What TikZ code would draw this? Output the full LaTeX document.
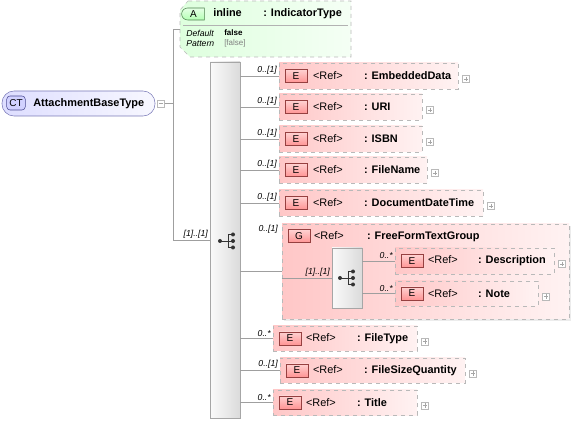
\documentclass[tikz,border=0pt]{standalone}
\usepackage{fontspec}
\setmainfont{Liberation Sans}
\usetikzlibrary{positioning, fit, calc, shapes.misc, shadows}

\begin{document}
\begin{tikzpicture}[x=0.75pt, y=-0.75pt,
	link/.style={draw=gray!75, line width=0.6pt},
	mult/.style={font=\fontsize{6.5}{7}\selectfont\itshape, inner sep=1.2pt},
	etext/.style={font=\fontsize{8.2}{10}\selectfont\bfseries, inner sep=0, anchor=west},
	elem/.style={draw=gray!55, dashed, left color=red!22, right color=red!5, inner sep=0},
	groupshadow/.style={drop shadow={shadow xshift=1.5pt, shadow yshift=-1.5pt, fill=gray!30}},
	badge/.style={draw=red!45!black!75, top color=red!18, bottom color=red!42, minimum width=16.5pt, minimum height=9.75pt, inner sep=0, font=\fontsize{7.5}{8}\selectfont},
	seqbox/.style={draw=gray!70, left color=gray!4, right color=gray!28, inner sep=0},
	plusbox/.style={draw=gray!55, fill=white, minimum size=5.25pt, inner sep=0,
		path picture={\draw[gray!70, line width=0.4pt] ([xshift=1pt]path picture bounding box.west) -- ([xshift=-1pt]path picture bounding box.east) ([yshift=-1pt]path picture bounding box.north) -- ([yshift=1pt]path picture bounding box.south);}},
	minusbox/.style={draw=gray!55, fill=white, minimum size=5.25pt, inner sep=0,
		path picture={\draw[gray!70, line width=0.4pt] ([xshift=1pt]path picture bounding box.west) -- ([xshift=-1pt]path picture bounding box.east);}},
	seqicon/.pic={
		\draw[black!80, line width=0.6pt] (-7,0) -- (1,0) (1,-6.5) -- (1,6.5) (1,-6.5) -- (6,-6.5) (1,6.5) -- (6,6.5) (1,0) -- (6,0);
		\fill[black!80] (-7,0) circle (1.5pt) (6,-6.5) circle (1.5pt) (6,0) circle (1.5pt) (6,6.5) circle (1.5pt);
	}]
	\useasboundingbox (0,0) rectangle (574,423);
	
	% complex type
	\node[draw=blue!30!gray!80, left color=blue!13, right color=blue!3, rounded corners=9pt, inner sep=0, fit={(2,91) (155,116)}] (ct) {};
	\node[draw=blue!40!black!70, fill=blue!18, rounded corners=2.5pt, minimum width=14pt, minimum height=10.5pt, inner sep=0, font=\fontsize{7.5}{8}\selectfont] (ctB) at (16,103) {CT};
	\node[etext] (ctT) at (33,103.5) {AttachmentBaseType};
	\node[minusbox, right=1.5pt of ct.east] (minus) {};
	\coordinate[right=6.75pt of minus.east] (fork);
	
	% attribute
	\node[inner sep=0, fit={(180,1) (351,57)}] (attr) {};
	\shade[left color=green!13, right color=green!4] (188,1) -- (351,1) -- (351,57) -- (190,57) -- (180,47) -- (180,10) -- cycle;
	\draw[gray!55, dashed] (188,1) -- (351,1) -- (351,57) -- (190,57) -- (180,47) -- (180,10) -- cycle;
	\node[rounded rectangle, rounded rectangle right arc=none, draw=green!30!black!70, top color=green!10, bottom color=green!30, minimum width=17pt, minimum height=9pt, inner sep=0, font=\fontsize{7.5}{8}\selectfont] (attrB) at (193.5,14) {A};
	\node[etext] (attrT) at (213,13.5) {\makebox[37.5pt][l]{inline}: IndicatorType};
	\draw[gray!60] (183,25) -- (348,25);
	\node[anchor=west, inner sep=0, font=\fontsize{6.5}{7}\selectfont\itshape] (attrD) at (186,33.5) {Default};
	\node[anchor=west, inner sep=0, font=\fontsize{6.5}{7}\selectfont\itshape] (attrP) at (186,43.5) {Pattern};
	\node[anchor=west, inner sep=0, font=\fontsize{6}{7}\selectfont\bfseries] (attrDv) at (224,33) {false};
	\node[anchor=west, inner sep=0, text=gray, font=\fontsize{6}{7}\selectfont] (attrPv) at (224,43.5) {[false]};
	
	% sequence
	\node[seqbox, fit={(210,62) (240,418)}] (seq) {};
	\pic at ($(seq.center)+(2,1)$) {seqicon};
	
	\draw[link] (minus) -- (fork);
	\draw[link] (fork) |- (attr);
	\draw[link] (fork) |- (seq) node[mult, pos=1, above left] {[1]..[1]};
	
	% elements
	\node[elem, fit={(279,63) (458,89)}] (eData) {};
	\node[badge, right=4.5pt of eData.west] (eDataB) {E};
	\node[etext] (eDataT) at ($(eData.west)+(34,0)$) {\makebox[38.25pt][l]{\mdseries<Ref>}: EmbeddedData};
	\node[plusbox, right=3pt of eData.east, yshift=-2.25pt] (eDataP) {};
	\draw[link] (seq.east |- eData.west) -- (eData) node[mult, pos=1, above left] {0..[1]};
	
	\node[elem, fit={(279,94) (422,120)}] (eUri) {};
	\node[badge, right=4.5pt of eUri.west] (eUriB) {E};
	\node[etext] (eUriT) at ($(eUri.west)+(34,0)$) {\makebox[38.25pt][l]{\mdseries<Ref>}: URI};
	\node[plusbox, right=3pt of eUri.east, yshift=-2.25pt] (eUriP) {};
	\draw[link] (seq.east |- eUri.west) -- (eUri) node[mult, pos=1, above left] {0..[1]};
	
	\node[elem, fit={(279,126) (422,152)}] (eIsbn) {};
	\node[badge, right=4.5pt of eIsbn.west] (eIsbnB) {E};
	\node[etext] (eIsbnT) at ($(eIsbn.west)+(34,0)$) {\makebox[38.25pt][l]{\mdseries<Ref>}: ISBN};
	\node[plusbox, right=3pt of eIsbn.east, yshift=-2.25pt] (eIsbnP) {};
	\draw[link] (seq.east |- eIsbn.west) -- (eIsbn) node[mult, pos=1, above left] {0..[1]};
	
	\node[elem, fit={(279,157) (427,183)}] (eName) {};
	\node[badge, right=4.5pt of eName.west] (eNameB) {E};
	\node[etext] (eNameT) at ($(eName.west)+(34,0)$) {\makebox[38.25pt][l]{\mdseries<Ref>}: FileName};
	\node[plusbox, right=3pt of eName.east, yshift=-2.25pt] (eNameP) {};
	\draw[link] (seq.east |- eName.west) -- (eName) node[mult, pos=1, above left] {0..[1]};
	
	\node[elem, fit={(279,190) (483,216)}] (eDate) {};
	\node[badge, right=4.5pt of eDate.west] (eDateB) {E};
	\node[etext] (eDateT) at ($(eDate.west)+(34,0)$) {\makebox[38.25pt][l]{\mdseries<Ref>}: DocumentDateTime};
	\node[plusbox, right=3pt of eDate.east, yshift=-2.25pt] (eDateP) {};
	\draw[link] (seq.east |- eDate.west) -- (eDate) node[mult, pos=1, above left] {0..[1]};
	
	% group
	\node[elem, groupshadow, fit={(282,224) (569,319)}] (gFree) {};
	\node[badge, anchor=west] (gFreeB) at ($(gFree.north west)+(6,12.5)$) {G};
	\node[etext] (gFreeT) at ($(gFree.north west)+(32,12.5)$) {\makebox[39.75pt][l]{\mdseries<Ref>}: FreeFormTextGroup};
	\node[mult, anchor=south east] (gFreeM) at ($(gFree.north west)+(-2,11)$) {0..[1]};
	\draw[link] (seq.east |- gFree.west) -- (gFree);
	
	\node[seqbox, fit={(332,248) (362,308)}] (iseq) {};
	\pic at (iseq.center) {seqicon};
	\draw[link] (gFree.west |- iseq.west) -- (iseq) node[mult, pos=1, above left] {[1]..[1]};
	
	\node[elem, fit={(395,248) (554,274)}] (eDesc) {};
	\node[badge, right=4.5pt of eDesc.west] (eDescB) {E};
	\node[etext] (eDescT) at ($(eDesc.west)+(33,0)$) {\makebox[37.5pt][l]{\mdseries<Ref>}: Description};
	\node[plusbox, right=3pt of eDesc.east, yshift=-2.25pt] (eDescP) {};
	\draw[link] (iseq.east |- eDesc.west) -- (eDesc) node[mult, pos=1, above left] {0..*};
	
	\node[elem, fit={(395,281) (538,306)}] (eNote) {};
	\node[badge, right=4.5pt of eNote.west] (eNoteB) {E};
	\node[etext] (eNoteT) at ($(eNote.west)+(33,0)$) {\makebox[37.5pt][l]{\mdseries<Ref>}: Note};
	\node[plusbox, right=3pt of eNote.east, yshift=-2.25pt] (eNoteP) {};
	\draw[link] (iseq.east |- eNote.west) -- (eNote) node[mult, pos=1, above left] {0..*};
	
	% remaining elements
	\node[elem, fit={(273,326) (417,351)}] (eType) {};
	\node[badge, right=4.5pt of eType.west] (eTypeB) {E};
	\node[etext] (eTypeT) at ($(eType.west)+(33,0)$) {\makebox[38.25pt][l]{\mdseries<Ref>}: FileType};
	\node[plusbox, right=3pt of eType.east, yshift=-2.25pt] (eTypeP) {};
	\draw[link] (seq.east |- eType.west) -- (eType) node[mult, pos=1, above left] {0..*};
	
	\node[elem, fit={(280,358) (465,383)}] (eSize) {};
	\node[badge, right=4.5pt of eSize.west] (eSizeB) {E};
	\node[etext] (eSizeT) at ($(eSize.west)+(33,0)$) {\makebox[38.25pt][l]{\mdseries<Ref>}: FileSizeQuantity};
	\node[plusbox, right=3pt of eSize.east, yshift=-2.25pt] (eSizeP) {};
	\draw[link] (seq.east |- eSize.west) -- (eSize) node[mult, pos=1, above left] {0..[1]};
	
	\node[elem, fit={(273,390) (417,415)}] (eTitle) {};
	\node[badge, right=4.5pt of eTitle.west] (eTitleB) {E};
	\node[etext] (eTitleT) at ($(eTitle.west)+(33,0)$) {\makebox[38.25pt][l]{\mdseries<Ref>}: Title};
	\node[plusbox, right=3pt of eTitle.east, yshift=-2.25pt] (eTitleP) {};
	\draw[link] (seq.east |- eTitle.west) -- (eTitle) node[mult, pos=1, above left] {0..*};
\end{tikzpicture}
\end{document}
